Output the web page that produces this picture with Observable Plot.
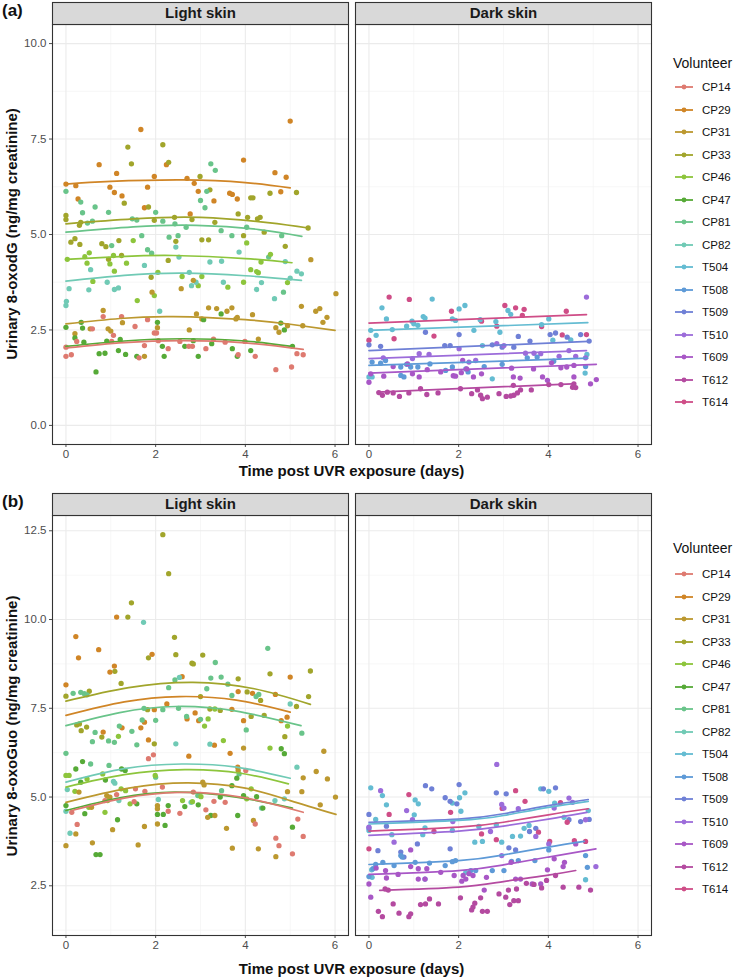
<!DOCTYPE html>
<html><head><meta charset="utf-8">
<script src="https://cdn.jsdelivr.net/npm/d3@7"></script>
<script src="https://cdn.jsdelivr.net/npm/@observablehq/plot@0.6"></script>
<style>
body{margin:0;background:#fff;font-family:"Liberation Sans",Arial,sans-serif;}
#fig{position:relative;width:740px;height:979px;overflow:hidden;}
.panel{position:absolute;left:0;}
.tag{position:absolute;left:2px;font-weight:bold;font-size:17px;color:#111;line-height:20px;}
.xt{position:absolute;left:51px;width:601px;text-align:center;font-weight:bold;font-size:15px;color:#111;line-height:18px;}
.yt{position:absolute;width:440px;height:18px;line-height:18px;text-align:center;font-weight:bold;font-size:15px;color:#111;transform:rotate(-90deg);white-space:nowrap;}
.lgt{position:absolute;left:673px;font-size:14px;color:#111;line-height:16px;}
.lgi{position:absolute;left:673px;height:16px;font-size:11.5px;color:#111;line-height:16px;white-space:nowrap;}
.lgi svg{position:absolute;left:0;top:0;}
.lgi span{position:absolute;left:29px;top:0;}
</style></head><body><div id="fig"></div>
<script>
// ---------- categories ----------
const skins = ["Light skin", "Dark skin"];
const volunteers = ["CP14","CP29","CP31","CP33","CP46","CP47","CP81","CP82","T504","T508","T509","T510","T609","T612","T614"];
const volunteerColors = ["#DE7A70","#D08526","#BC982F","#A1A52B","#8DC53C","#56AA37","#69C48A","#70CAB5","#64BCD2","#5E9AD7","#6F80D6","#9C6CDA","#A857C6","#B44AA0","#CF4D87"];

// ---------- axis ticks ----------
const xTicks = [0, 2, 4, 6];
const xMinor = [1, 3, 5];
const xDomain = [-0.3, 6.3];
const yTicksA = [0, 2.5, 5, 7.5, 10];
const yMinorA = [1.25, 3.75, 6.25, 8.75];
const yDomainA = [-0.5, 10.5];
const yTicksB = [2.5, 5, 7.5, 10, 12.5];
const yMinorB = [1.25, 3.75, 6.25, 8.75, 11.25];
const yDomainB = [1.1, 12.93];

// ---------- (a) Urinary 8-oxodG: [volunteer, days, value] ----------
const oxodG_light = [
["CP29",0,6.32],["CP29",0.22,6.28],["CP29",0.27,5.93],["CP29",0.74,6.83],["CP29",0.98,6.24],["CP29",1.08,6.10],["CP29",1.13,6.60],["CP29",1.25,6.01],["CP29",1.67,7.75],["CP29",1.75,5.70],["CP29",1.82,6.24],["CP29",1.97,6.52],["CP29",2.24,6.83],["CP29",2.70,6.47],["CP29",2.77,5.54],["CP29",2.86,6.34],["CP29",2.95,6.13],["CP29",3.30,5.88],["CP29",3.65,6.08],["CP29",3.71,6.05],["CP29",3.82,5.93],["CP29",3.96,6.95],["CP29",4.66,6.62],["CP29",4.79,6.12],["CP29",4.91,6.50],["CP29",5.0,7.97],
["CP33",0,5.50],["CP33",0,5.39],["CP33",0.33,5.32],["CP33",0.30,5.24],["CP33",1.30,5.82],["CP33",1.46,6.85],["CP33",1.38,7.29],["CP33",1.84,5.72],["CP33",1.97,5.37],["CP33",2.16,7.35],["CP33",2.29,6.89],["CP33",2.42,5.45],["CP33",2.81,5.39],["CP33",2.99,6.52],["CP33",3.21,6.17],["CP33",3.32,5.32],["CP33",3.84,5.54],["CP33",4.05,5.45],["CP33",4.12,5.96],["CP33",4.17,5.96],["CP33",4.27,5.41],["CP33",4.33,5.45],["CP33",4.42,5.06],["CP33",4.55,6.08],["CP33",5.14,6.10],["CP33",5.40,5.17],["CP33",0.11,4.80],["CP33",0.20,4.89],["CP33",0.31,4.74],["CP33",0.80,4.76],["CP33",0.89,4.68],["CP33",0.95,4.35],["CP33",1.18,4.84],["CP33",1.24,4.45],["CP33",1.90,3.88],["CP33",2.28,4.32],["CP33",2.45,4.82],["CP33",3.03,4.86],["CP33",3.18,4.86],["CP33",3.96,4.97],["CP33",4.89,4.69],
["CP81",0,6.13],["CP81",0.33,5.85],["CP81",0.37,5.57],["CP81",0.65,5.72],["CP81",0.48,5.30],["CP81",0.59,5.35],["CP81",0.95,5.58],["CP81",1.48,5.41],["CP81",1.58,5.38],["CP81",2.0,5.58],["CP81",2.16,5.35],["CP81",2.43,5.28],["CP81",2.68,5.19],["CP81",3.0,5.89],["CP81",3.1,5.70],["CP81",3.14,6.13],["CP81",3.23,6.85],["CP81",3.33,6.68],["CP81",3.46,5.10],["CP81",4.03,5.19],["CP81",4.81,4.97],["CP81",1.02,4.71],["CP81",1.69,4.97],["CP81",1.82,4.60],["CP81",1.91,4.51],["CP81",2.30,4.93],["CP81",2.50,4.97],["CP81",3.70,4.97],["CP81",4.52,4.41],["CP81",4.85,3.49],
["CP46",0.03,4.35],["CP46",0.42,4.42],["CP46",0.47,4.25],["CP46",0.52,4.52],["CP46",0.60,3.77],["CP46",0.98,4.23],["CP46",1.06,4.45],["CP46",1.08,4.04],["CP46",1.35,4.25],["CP46",1.50,4.84],["CP46",1.59,3.27],["CP46",1.97,3.40],["CP46",2.05,4.01],["CP46",2.59,3.90],["CP46",2.95,3.66],["CP46",3.03,3.90],["CP46",3.61,3.62],["CP46",3.96,3.75],["CP46",4.03,4.78],["CP46",4.12,4.08],["CP46",4.25,4.03],["CP46",4.29,4.0],["CP46",4.35,4.28],["CP46",4.56,4.48],["CP46",4.94,3.74],
["CP82",0,3.14],["CP82",0.01,3.25],["CP82",0.07,3.58],["CP82",0.55,4.08],["CP82",0.51,3.55],["CP82",0.92,3.75],["CP82",1.08,3.56],["CP82",1.17,3.60],["CP82",1.75,4.19],["CP82",2.09,2.99],["CP82",2.45,4.67],["CP82",2.52,4.41],["CP82",2.75,4.01],["CP82",2.80,3.66],["CP82",2.90,3.75],["CP82",3.21,4.28],["CP82",3.47,4.30],["CP82",3.51,3.75],["CP82",3.86,4.54],["CP82",4.36,3.74],["CP82",4.25,3.56],["CP82",4.65,3.32],["CP82",4.89,4.29],["CP82",5.0,3.86],["CP82",5.15,4.04],["CP82",5.25,3.97],
["CP31",2.57,3.58],["CP31",2.84,3.80],["CP31",1.92,3.49],["CP31",5.46,4.34],["CP31",6.02,3.45],["CP31",0.2,2.40],["CP31",0.54,2.53],["CP31",0.83,3.01],["CP31",0.94,2.53],["CP31",1.0,2.47],["CP31",1.26,2.69],["CP31",1.75,1.81],["CP31",2.04,2.56],["CP31",2.75,2.50],["CP31",2.91,2.92],["CP31",3.03,2.79],["CP31",3.18,3.08],["CP31",3.36,3.06],["CP31",3.59,2.99],["CP31",3.70,3.08],["CP31",3.79,2.79],["CP31",3.82,2.83],["CP31",4.16,2.90],["CP31",4.29,2.26],["CP31",4.68,2.56],["CP31",4.75,2.44],["CP31",4.94,2.61],["CP31",5.25,3.12],["CP31",5.28,2.61],["CP31",5.57,2.99],["CP31",5.66,3.06],["CP31",5.73,2.70],["CP31",5.82,2.83],
["CP47",0,2.57],["CP47",0.2,2.29],["CP47",0.34,2.70],["CP47",0.37,2.55],["CP47",0.4,2.18],["CP47",0.67,1.40],["CP47",0.74,1.88],["CP47",0.87,1.89],["CP47",0.91,2.21],["CP47",1.17,1.96],["CP47",1.21,2.25],["CP47",1.33,1.86],["CP47",1.58,1.81],["CP47",2.04,2.70],["CP47",2.15,2.07],["CP47",2.19,1.81],["CP47",2.65,2.07],["CP47",2.84,2.22],["CP47",2.95,1.81],["CP47",3.07,2.77],["CP47",3.25,2.14],["CP47",3.46,2.92],["CP47",3.71,2.01],["CP47",3.82,1.81],["CP47",4.12,1.96],["CP47",4.79,2.68],["CP47",4.87,2.50],["CP47",5.05,2.07],
["CP14",0,2.05],["CP14",0,1.81],["CP14",0.12,1.85],["CP14",0.24,2.20],["CP14",0.59,2.53],["CP14",0.83,2.85],["CP14",1.06,2.36],["CP14",1.02,2.20],["CP14",1.24,2.85],["CP14",1.54,2.59],["CP14",1.63,1.77],["CP14",1.75,2.09],["CP14",1.82,2.77],["CP14",1.97,2.42],["CP14",2.02,2.42],["CP14",2.06,2.22],["CP14",2.28,2.01],["CP14",2.54,2.20],["CP14",2.74,2.07],["CP14",2.82,2.07],["CP14",3.12,2.01],["CP14",3.29,2.26],["CP14",3.55,2.18],["CP14",3.84,1.85],["CP14",3.99,2.2],["CP14",4.22,1.81],["CP14",4.68,1.46],["CP14",5.03,1.53],["CP14",5.15,1.88],["CP14",5.29,1.85]
];
const oxodG_dark = [
["T614",0.45,3.36],["T614",0.90,3.30],["T614",0,2.23],["T614",0.56,2.27],["T614",1.45,2.34],["T614",1.84,2.99],["T614",2.51,2.73],["T614",2.85,2.60],["T614",3.03,3.14],["T614",3.27,3.08],["T614",3.46,3.04],["T614",3.42,2.88],["T614",3.85,2.59],["T614",4.4,2.99],["T614",4.31,2.37],["T614",4.85,2.38],
["T504",0.29,3.08],["T504",0.39,2.79],["T504",0.04,2.49],["T504",0.16,2.36],["T504",0.52,2.51],["T504",0.84,2.60],["T504",0.96,2.73],["T504",1.0,2.66],["T504",1.09,2.62],["T504",1.21,2.85],["T504",1.25,2.81],["T504",1.41,3.31],["T504",1.86,2.79],["T504",1.93,2.75],["T504",2.01,3.05],["T504",2.14,3.14],["T504",2.34,2.49],["T504",2.48,2.77],["T504",2.83,2.72],["T504",2.92,2.44],["T504",3.1,3.01],["T504",3.16,2.91],["T504",3.85,2.64],["T504",4.01,2.79],["T504",4.86,1.86],["T504",4.82,1.37],["T504",4.1,2.23],["T504",4.5,2.24],["T504",2.53,2.09],["T504",2.75,1.22],["T504",0,1.27],["T504",0.07,1.27],
["T509",0,2.11],["T509",0.26,2.07],["T509",1.26,2.44],["T509",1.69,2.09],["T509",1.81,2.09],["T509",2.01,2.38],["T509",2.75,2.11],["T509",2.97,2.05],["T509",3.23,2.05],["T509",3.33,2.33],["T509",3.59,2.21],["T509",4.04,2.38],["T509",4.16,2.42],["T509",4.42,2.31],["T509",4.72,2.38],["T509",4.91,2.21],
["T510",4.85,3.36],["T510",0.32,1.77],["T510",0.97,1.75],["T510",1.12,1.88],["T510",1.34,1.86],["T510",2.01,2.01],["T510",2.23,1.66],["T510",2.38,1.70],["T510",2.85,2.14],["T510",3.01,2.09],["T510",3.49,1.89],["T510",3.68,1.89],["T510",3.83,1.88],["T510",4.24,1.81],["T510",4.46,1.96],["T510",4.61,1.81],["T510",4.83,1.77],
["T508",0.07,1.66],["T508",0.26,1.63],["T508",0.37,1.70],["T508",0.71,1.53],["T508",0.84,1.60],["T508",0.93,1.53],["T508",1.09,1.53],["T508",1.36,1.61],["T508",1.71,1.44],["T508",1.86,1.53],["T508",2.16,1.48],["T508",2.21,1.40],["T508",2.57,1.54],["T508",2.97,1.60],["T508",3.53,1.77],["T508",3.75,1.79],["T508",4.12,1.68],["T508",4.83,1.54],["T508",0.71,1.31],["T508",0.78,1.27],
["T609",0,1.13],["T609",0.04,1.35],["T609",0.33,1.29],["T609",0.54,1.54],["T609",0.86,1.61],["T609",1.12,1.27],["T609",1.3,1.46],["T609",1.6,1.40],["T609",1.88,1.30],["T609",1.93,1.29],["T609",2.06,1.38],["T609",2.18,1.48],["T609",2.33,1.27],["T609",2.51,1.35],["T609",3.18,1.50],["T609",3.22,1.27],["T609",3.37,1.24],["T609",3.67,1.48],["T609",3.87,1.27],["T609",3.98,1.18],["T609",4.07,1.64],["T609",4.28,1.51],["T609",4.41,1.53],["T609",4.57,1.57],["T609",4.57,1.27],["T609",4.94,1.09],["T609",5.07,1.20],["T609",0.97,1.35],["T609",2.09,1.70],
["T612",0.22,0.86],["T612",0.30,0.79],["T612",0.41,0.87],["T612",0.54,0.85],["T612",0.68,0.76],["T612",0.89,0.85],["T612",1.15,0.96],["T612",1.29,0.81],["T612",1.54,0.85],["T612",2.04,0.96],["T612",2.29,0.83],["T612",2.42,0.93],["T612",2.49,0.79],["T612",2.53,0.70],["T612",2.64,0.74],["T612",2.9,0.83],["T612",3.06,0.76],["T612",3.16,0.77],["T612",3.23,0.79],["T612",3.31,0.85],["T612",3.38,0.93],["T612",3.22,1.05],["T612",3.62,0.93],["T612",4.01,1.07],["T612",4.28,1.07],["T612",4.54,1.00],["T612",4.57,1.09],["T612",4.61,0.99]
];
// fitted curves: [volunteer, days, value]
const oxodG_fit = [
["CP29",0,6.32],["CP29",1,6.39],["CP29",2.6,6.43],["CP29",4,6.36],["CP29",5.0,6.22],
["CP33",0,5.28],["CP33",1.5,5.41],["CP33",3.0,5.45],["CP33",4.5,5.31],["CP33",5.4,5.17],
["CP81",0,5.06],["CP81",1.5,5.20],["CP81",2.9,5.24],["CP81",4.3,5.13],["CP81",5.26,4.95],
["CP46",0,4.35],["CP46",1.2,4.42],["CP46",2.4,4.45],["CP46",4,4.37],["CP46",5.04,4.26],
["CP82",0,3.78],["CP82",1.3,3.93],["CP82",2.6,3.99],["CP82",4,3.92],["CP82",5.25,3.80],
["CP31",0,2.66],["CP31",1.2,2.80],["CP31",2.4,2.85],["CP31",4,2.77],["CP31",5,2.65],["CP31",6,2.49],
["CP47",0,2.07],["CP47",1.3,2.21],["CP47",2.6,2.27],["CP47",4,2.21],["CP47",5.03,2.07],
["CP14",0,2.03],["CP14",1.3,2.17],["CP14",2.6,2.22],["CP14",4,2.16],["CP14",5.29,1.99],
["T614",0,2.68],["T614",4.85,2.90],
["T504",0,2.49],["T504",4.88,2.69],
["T509",0,1.96],["T509",4.9,2.20],
["T510",0,1.75],["T510",4.85,1.96],
["T508",0,1.57],["T508",4.88,1.76],
["T609",0,1.37],["T609",5.07,1.60],
["T612",0.19,0.87],["T612",4.53,1.09]
];

// ---------- (b) Urinary 8-oxoGuo: [volunteer, days, value] ----------
const oxoGuo_light = [
["CP33",2.16,12.39],["CP33",2.29,11.29],["CP33",1.46,10.47],["CP33",1.38,10.07],["CP33",2.42,9.50],["CP33",1.84,8.92],["CP33",2.45,9.01],["CP33",1.09,8.54],["CP33",2.81,8.77],["CP33",2.84,8.75],["CP33",3.05,9.0],["CP33",4.55,8.47],["CP33",5.45,8.55],["CP33",0,7.84],["CP33",0.52,7.98],["CP33",1.23,8.20],["CP33",3.0,7.83],["CP33",3.84,8.33],["CP33",4.04,7.96],["CP33",4.34,7.72],["CP33",5.14,7.55],["CP33",5.41,7.83],["CP33",0.24,7.03],["CP33",0.30,7.06],["CP33",0.34,6.87],["CP33",0.46,6.97],["CP33",0.80,6.69],["CP33",1.82,7.46],["CP33",1.97,6.50],["CP33",3.21,7.48],["CP33",3.44,7.44],["CP33",4.13,7.27],["CP33",4.42,7.30],["CP33",4.88,6.70],
["CP29",1.13,10.07],["CP29",0.22,9.52],["CP29",0.28,8.92],["CP29",0.73,9.15],["CP29",1.92,9.02],["CP29",1.08,8.69],["CP29",0.98,8.52],["CP29",5.0,8.38],["CP29",0,8.16],["CP29",2.59,8.39],["CP29",3.84,7.97],["CP29",4.16,7.92],["CP29",4.67,7.89],["CP29",0.83,6.83],["CP29",1.25,6.95],["CP29",1.67,6.95],["CP29",1.75,7.11],["CP29",1.84,6.61],["CP29",1.97,7.46],["CP29",2.25,7.62],["CP29",2.70,7.20],["CP29",2.88,7.37],["CP29",2.96,7.15],["CP29",3.31,6.46],["CP29",3.70,7.47],["CP29",3.66,6.23],["CP29",3.96,7.15],["CP29",4.80,7.15],["CP29",4.93,7.25],["CP29",2.74,6.15],["CP29",3.83,5.84],
["CP81",3.33,8.79],["CP81",4.5,9.19],["CP81",0.16,7.92],["CP81",0.33,7.95],["CP81",0.41,7.91],["CP81",0.47,7.88],["CP81",2.29,8.08],["CP81",2.43,8.30],["CP81",3.14,8.05],["CP81",3.23,8.35],["CP81",3.46,8.38],["CP81",3.61,8.18],["CP81",3.70,7.86],["CP81",4.24,7.83],["CP81",4.30,7.89],["CP81",0.65,6.82],["CP81",0.59,6.56],["CP81",0.95,6.58],["CP81",1.08,6.54],["CP81",1.19,7.0],["CP81",1.47,6.85],["CP81",1.58,6.47],["CP81",1.70,7.17],["CP81",1.74,7.50],["CP81",2.0,7.16],["CP81",2.16,7.46],["CP81",2.51,7.50],["CP81",2.69,7.27],["CP81",3.0,7.19],["CP81",4.02,6.89],["CP81",5.26,6.80],["CP81",0,6.23],["CP81",0.55,5.93],["CP81",0.96,5.89],["CP81",2.0,5.56],["CP81",2.94,5.04],["CP81",3.47,5.18],["CP81",3.86,5.65],
["CP82",1.73,9.92],["CP82",2.53,8.37],["CP82",5.0,7.62],["CP82",2.45,6.50],["CP82",3.21,6.49],["CP82",0.03,5.21],["CP82",0,4.60],["CP82",0.09,3.98],["CP82",1.06,5.44],["CP82",1.09,5.39],["CP82",1.18,4.90],["CP82",2.06,4.93],["CP82",2.79,4.85],["CP82",4.36,4.69],["CP82",4.66,4.90],["CP82",4.87,4.95],["CP82",5.15,5.84],
["CP46",1.17,6.71],["CP46",3.09,7.0],["CP46",3.17,7.20],["CP46",3.32,7.48],["CP46",3.51,6.59],["CP46",4.55,6.38],["CP46",4.94,7.0],["CP46",0,5.61],["CP46",0.07,5.61],["CP46",0.2,5.16],["CP46",0.47,5.51],["CP46",0.51,4.71],["CP46",0.82,5.65],["CP46",0.87,4.57],["CP46",0.93,4.90],["CP46",1.23,5.23],["CP46",1.33,5.18],["CP46",1.43,4.81],["CP46",1.99,5.61],["CP46",2.60,4.90],["CP46",2.82,4.87],["CP46",3.01,5.01],["CP46",4.03,4.95],["CP46",4.13,5.23],
["CP47",4.80,6.36],["CP47",4.87,6.22],["CP47",0,4.76],["CP47",0.22,5.79],["CP47",0.33,5.42],["CP47",0.37,6.0],["CP47",0.42,4.53],["CP47",0.67,3.38],["CP47",0.76,3.38],["CP47",0.88,5.48],["CP47",1.15,4.36],["CP47",1.24,5.79],["CP47",1.32,5.75],["CP47",1.58,4.81],["CP47",2.04,4.51],["CP47",2.17,4.51],["CP47",2.21,4.20],["CP47",2.28,4.76],["CP47",2.65,4.73],["CP47",2.95,4.78],["CP47",3.23,4.48],["CP47",3.44,5.0],["CP47",3.70,5.32],["CP47",3.81,5.53],["CP47",3.83,4.48],["CP47",3.96,5.04],["CP47",4.25,5.01],["CP47",4.39,4.69],["CP47",5.05,4.15],
["CP31",5.75,6.29],["CP31",3.96,6.38],["CP31",0,3.63],["CP31",0.22,3.96],["CP31",0.29,5.14],["CP31",0.57,4.71],["CP31",0.59,3.71],["CP31",0.91,5.04],["CP31",0.98,5.0],["CP31",1.04,4.08],["CP31",1.61,3.65],["CP31",1.75,4.17],["CP31",2.04,4.76],["CP31",2.04,4.67],["CP31",2.04,4.24],["CP31",3.05,5.42],["CP31",3.08,5.34],["CP31",3.16,4.43],["CP31",3.32,4.48],["CP31",3.58,4.12],["CP31",3.71,3.56],["CP31",3.84,5.75],["CP31",4.18,4.34],["CP31",4.29,3.54],["CP31",4.68,3.32],["CP31",4.94,5.15],["CP31",5.26,5.15],["CP31",5.29,5.54],["CP31",5.58,5.72],["CP31",5.67,4.78],["CP31",5.83,5.51],["CP31",6.01,5.0],
["CP14",0.13,4.57],["CP14",0.25,4.23],["CP14",0.87,4.90],["CP14",1.13,5.07],["CP14",1.52,4.87],["CP14",1.55,5.23],["CP14",1.76,5.16],["CP14",1.84,6.08],["CP14",1.95,6.19],["CP14",2.15,5.28],["CP14",2.28,4.60],["CP14",2.54,4.54],["CP14",2.84,5.14],["CP14",3.12,4.64],["CP14",3.30,4.88],["CP14",3.55,4.85],["CP14",4.01,5.75],["CP14",4.22,4.24],["CP14",4.68,3.84],["CP14",4.75,3.63],["CP14",5.05,3.40],["CP14",5.17,4.38],["CP14",5.29,3.89]
];
const oxoGuo_dark = [
["T504",0.04,5.26],["T504",0.30,5.04],["T504",0.39,4.78],["T504",0.15,4.37],["T504",0,4.06],["T504",0.51,3.94],["T504",1.03,4.92],["T504",1.10,4.81],["T504",1.01,4.50],["T504",1.25,4.13],["T504",1.20,3.94],["T504",1.86,4.83],["T504",2.02,4.98],["T504",2.14,5.12],["T504",2.05,4.60],["T504",1.86,4.06],["T504",2.45,4.17],["T504",2.36,3.73],["T504",2.53,3.75],["T504",2.84,4.22],["T504",2.96,3.73],["T504",3.20,3.89],["T504",3.38,3.90],["T504",3.46,4.12],["T504",3.57,4.20],["T504",3.83,5.23],["T504",4.01,5.16],["T504",4.14,4.83],["T504",4.35,4.43],["T504",4.89,4.62],["T504",4.83,2.67],["T504",0.06,2.95],["T504",0.07,2.74],["T504",2.16,2.88],
["T509",0,4.51],["T509",0,4.13],["T509",0.39,4.18],["T509",1.26,5.32],["T509",1.40,5.23],["T509",1.70,4.98],["T509",1.81,4.88],["T509",2.01,5.35],["T509",1.96,4.81],["T509",2.84,5.12],["T509",3.06,5.09],["T509",3.72,4.12],["T509",3.89,5.23],["T509",4.16,5.26],["T509",4.46,4.36],["T509",4.72,4.31],["T509",4.91,4.37],["T509",0.20,3.49],["T509",0.71,3.45],["T509",0.78,3.31],["T509",1.08,3.68],["T509",1.81,3.54],["T509",3.12,3.57],["T509",3.27,3.51],["T509",3.58,4.03],
["T614",0,3.54],["T614",0.45,4.51],["T614",0.89,5.07],["T614",1.45,4.03],["T614",1.82,4.57],["T614",2.51,3.96],["T614",2.84,3.80],["T614",2.97,4.68],["T614",3.27,5.18],["T614",3.48,4.88],["T614",3.78,4.01],["T614",4.03,3.75],["T614",4.27,4.84],["T614",4.42,4.29],["T614",4.58,3.77],["T614",4.83,3.75],
["T510",0,4.15],["T510",0.26,5.18],["T510",0.56,3.73],["T510",0.84,4.62],["T510",0.97,4.36],["T510",1.87,4.31],["T510",2.71,4.03],["T510",2.85,5.92],["T510",2.96,4.79],["T510",3.01,4.69],["T510",3.33,4.67],["T510",3.72,3.89],["T510",4.13,4.69],["T510",4.46,4.97],["T510",4.54,4.85],["T510",4.83,4.36],["T510",5.06,3.04],["T510",4.01,3.68],["T510",2.96,3.35],
["T508",0,2.76],["T508",0.09,2.98],["T508",0.15,3.10],["T508",0.31,3.16],["T508",0.56,3.07],["T508",0.71,3.35],["T508",0.74,3.31],["T508",1.03,3.16],["T508",1.25,2.69],["T508",1.35,3.14],["T508",1.70,3.07],["T508",1.86,3.18],["T508",1.93,3.21],["T508",2.27,2.93],["T508",2.38,2.93],["T508",2.75,2.93],["T508",3.01,2.93],["T508",3.18,3.19],["T508",3.33,3.21],["T508",3.70,3.21],["T508",4.01,3.51],["T508",4.83,3.35],["T508",4.87,3.02],
["T609",0,2.55],["T609",0.04,2.18],["T609",0.16,3.00],["T609",0.37,2.93],["T609",0.39,2.72],["T609",0.65,2.82],["T609",0.93,3.51],["T609",0.93,3.04],["T609",1.10,2.98],["T609",1.10,2.69],["T609",1.25,2.69],["T609",1.29,2.98],["T609",1.60,2.88],["T609",1.90,2.79],["T609",2.07,2.63],["T609",2.10,2.79],["T609",2.16,2.69],["T609",2.23,2.84],["T609",2.32,2.79],["T609",2.57,2.38],["T609",2.62,2.74],["T609",3.17,3.16],["T609",3.27,2.69],["T609",3.38,2.69],["T609",3.64,2.55],["T609",3.83,2.55],["T609",3.98,2.95],["T609",4.13,3.26],["T609",4.33,3.04],["T609",4.36,3.16],["T609",4.61,3.68],
["T612",0.21,1.78],["T612",0.30,1.63],["T612",0.36,2.41],["T612",0.43,2.38],["T612",0.54,1.99],["T612",0.67,1.73],["T612",0.89,1.63],["T612",0.93,1.71],["T612",1.15,1.97],["T612",1.26,1.99],["T612",1.35,2.13],["T612",1.55,1.99],["T612",2.04,2.16],["T612",2.29,1.82],["T612",2.32,1.90],["T612",2.36,2.01],["T612",2.49,2.16],["T612",2.53,1.78],["T612",2.64,1.78],["T612",2.90,2.27],["T612",3.05,2.18],["T612",3.14,1.97],["T612",3.11,2.38],["T612",3.23,2.08],["T612",3.29,2.41],["T612",3.33,2.08],["T612",3.51,2.57],["T612",3.68,2.54],["T612",3.85,2.44],["T612",3.96,2.65],["T612",4.16,2.79],["T612",4.33,2.46],["T612",4.68,2.46],["T612",4.94,2.38]
];
const oxoGuo_fit = [
["CP33",0,7.70],["CP33",1.4,8.08],["CP33",2.83,8.23],["CP33",4.2,8.05],["CP33",5.45,7.61],
["CP29",0,7.30],["CP29",1.3,7.68],["CP29",2.53,7.83],["CP29",3.8,7.73],["CP29",5.0,7.39],
["CP81",0,7.01],["CP81",1.2,7.38],["CP81",2.45,7.55],["CP81",3.8,7.42],["CP81",5.24,7.01],
["CP82",0,5.42],["CP82",1.3,5.80],["CP82",2.58,5.93],["CP82",3.8,5.84],["CP82",5.0,5.53],
["CP46",0,5.28],["CP46",1.3,5.63],["CP46",2.65,5.77],["CP46",3.9,5.67],["CP46",4.96,5.37],
["CP31",0,4.85],["CP31",1.4,5.25],["CP31",2.73,5.40],["CP31",4,5.25],["CP31",5,4.90],["CP31",6.02,4.51],
["CP47",0,4.62],["CP47",1.2,4.98],["CP47",2.43,5.14],["CP47",3.8,5.00],["CP47",5.05,4.69],
["CP14",0.13,4.62],["CP14",1.3,4.97],["CP14",2.54,5.13],["CP14",3.9,5.00],["CP14",5.29,4.57],
["T509",0,4.29],["T509",2,4.38],["T509",3,4.53],["T509",4,4.76],["T509",4.89,4.93],
["T504",0,4.24],["T504",2,4.34],["T504",3,4.48],["T504",4,4.71],["T504",4.89,4.88],
["T614",0,4.04],["T614",2,4.15],["T614",3,4.29],["T614",4,4.50],["T614",4.89,4.67],
["T510",0,3.92],["T510",2,4.04],["T510",3,4.18],["T510",4,4.38],["T510",4.86,4.57],
["T508",0,3.10],["T508",2,3.21],["T508",3,3.37],["T508",4,3.59],["T508",4.80,3.75],
["T609",0,2.82],["T609",2,2.93],["T609",3,3.09],["T609",4,3.31],["T609",5.06,3.54],
["T612",0.24,2.37],["T612",2,2.46],["T612",3,2.62],["T612",4,2.80],["T612",4.61,2.93]
];

// ---------- texts ----------
const xTitle = "Time post UVR exposure (days)";
const yTitleA = "Urinary 8-oxodG (ng/mg creatinine)";
const yTitleB = "Urinary 8-oxoGuo (ng/mg creatinine)";
const legendTitle = "Volunteer";

// ---------- build ----------
const toRows = rows => rows.map(([vol, t, v]) => ({vol, t, v, skin: vol.startsWith("CP") ? skins[0] : skins[1]}));

function panel(points, fits, yDomain, yTicks, yMinor, height, marginBottom) {
  return Plot.plot({
    width: 655, height, marginLeft: 51, marginRight: 3, marginTop: 24, marginBottom,
    style: {fontFamily: "Liberation Sans, Arial, sans-serif", fontSize: "11.5px", color: "#4d4d4d", background: "transparent", overflow: "visible"},
    fx: {domain: skins, padding: 0.023, axis: null, label: null},
    x: {domain: xDomain, ticks: xTicks, tickFormat: d3.format("d"), tickSize: 3, tickPadding: 2, label: null},
    y: {domain: yDomain, ticks: yTicks, tickFormat: d3.format(".1f"), tickSize: 3, tickPadding: 3, label: null},
    color: {domain: volunteers, range: volunteerColors},
    marks: [
      Plot.ruleX(xMinor, {stroke: "#f3f3f3", strokeWidth: 0.7}),
      Plot.ruleY(yMinor, {stroke: "#f3f3f3", strokeWidth: 0.7}),
      Plot.ruleX(xTicks, {stroke: "#ebebeb", strokeWidth: 1.1}),
      Plot.ruleY(yTicks, {stroke: "#ebebeb", strokeWidth: 1.1}),
      Plot.dot(toRows(points), {fx: "skin", x: "t", y: "v", fill: "vol", r: 2.65}),
      Plot.line(toRows(fits), {fx: "skin", x: "t", y: "v", z: "vol", stroke: "vol", strokeWidth: 1.7, curve: "natural"}),
      Plot.frame({stroke: "#333", strokeWidth: 1.1}),
      Plot.frame({fill: "#d9d9d9", stroke: "#333", strokeWidth: 1.1, insetTop: -22, insetBottom: height - 24 - marginBottom}),
      Plot.text(skins, {fx: d => d, text: d => d, frameAnchor: "top", lineAnchor: "middle", dy: -11, fontSize: 15, fontWeight: "bold", fill: "#1a1a1a"})
    ]
  });
}

const fig = document.getElementById("fig");
function add(el, top) { el.classList.add("panel"); el.style.top = top + "px"; fig.appendChild(el); }
function div(cls, text, styles) {
  const d = document.createElement("div"); d.className = cls; d.textContent = text;
  Object.assign(d.style, styles); fig.appendChild(d); return d;
}
function legend(titleY, firstY) {
  div("lgt", legendTitle, {top: (titleY - 8) + "px"});
  volunteers.forEach((v, i) => {
    const row = document.createElement("div");
    row.className = "lgi";
    row.style.top = (firstY + 22.5 * i - 8) + "px";
    const c = volunteerColors[i];
    row.innerHTML = `<svg width="24" height="16"><line x1="2" x2="20" y1="8" y2="8" stroke="${c}" stroke-width="1.8"/><circle cx="11" cy="8" r="2.4" fill="${c}"/></svg><span>${v}</span>`;
    fig.appendChild(row);
  });
}

add(panel(oxodG_light.concat(oxodG_dark), oxodG_fit, yDomainA, yTicksA, yMinorA, 480, 36), 0);
add(panel(oxoGuo_light.concat(oxoGuo_dark), oxoGuo_fit, yDomainB, yTicksB, yMinorB, 488, 44), 491);

div("tag", "(a)", {top: "1px"});
div("tag", "(b)", {top: "492px"});
div("xt", xTitle, {top: "462px"});
div("xt", xTitle, {top: "960px"});
div("yt", yTitleA, {left: (12 - 220) + "px", top: (234 - 9) + "px"});
div("yt", yTitleB, {left: (12 - 220) + "px", top: (726 - 9) + "px"});
legend(63, 87);
legend(548, 574);
</script></body></html>
